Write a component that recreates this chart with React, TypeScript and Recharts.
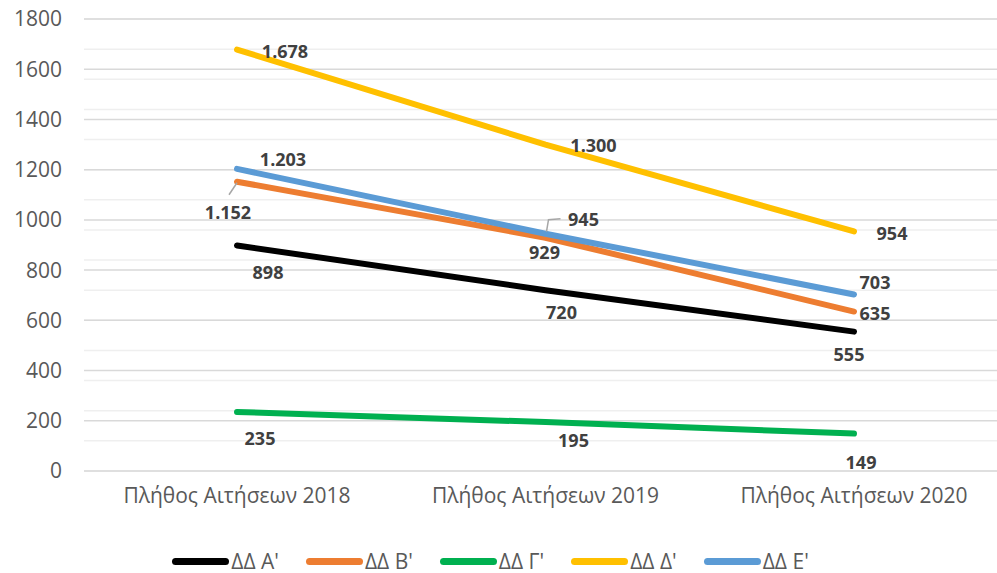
import React from "react";
import {
  LineChart,
  Line,
  XAxis,
  YAxis,
  CartesianGrid,
  Legend,
  LabelList,
} from "recharts";

const categories = [
  "Πλήθος Αιτήσεων 2018",
  "Πλήθος Αιτήσεων 2019",
  "Πλήθος Αιτήσεων 2020",
];
const ddA = [898, 720, 555];
const ddB = [1152, 929, 635];
const ddG = [235, 195, 149];
const ddD = [1678, 1300, 954];
const ddE = [1203, 945, 703];
const yTicks = [0, 200, 400, 600, 800, 1000, 1200, 1400, 1600, 1800];

const data = categories.map((name, i) => ({
  name,
  a: ddA[i],
  b: ddB[i],
  g: ddG[i],
  d: ddD[i],
  e: ddE[i],
}));

const minorLines: number[] = [];
for (let v = 0; v <= 1800; v += 40) minorLines.push(v);

// label offsets from the point (label centre)
const labelPos: Record<string, number[][]> = {
  a: [[31, 27], [16, 22], [-5, 23]],
  b: [[-9, 31], [-1, 15], [21, 2]],
  g: [[23, 27], [28, 19], [7, 29]],
  d: [[48, 2], [48, 1], [38, 2]],
  e: [[46, -9], [38, -14], [21, -12]],
};

const fmt = (v: number) =>
  v >= 1000 ? Math.floor(v / 1000) + "." + String(v % 1000).padStart(3, "0") : String(v);

const makeLabel = (key: string) => (props: any) => {
  const { x, y, value, index } = props;
  const [dx, dy] = labelPos[key][index];
  const lx = x + dx;
  const ly = y + dy;
  let leader = null;
  if (key === "b" && index === 0) {
    leader = <polyline points={`${x},${y + 1} ${x - 8},${y + 13}`} stroke="#A6A6A6" strokeWidth={1.5} fill="none" />;
  }
  if (key === "e" && index === 1) {
    leader = <polyline points={`${x + 1},${y - 2} ${x + 3},${y - 14} ${x + 15},${y - 15}`} stroke="#A6A6A6" strokeWidth={1.5} fill="none" />;
  }
  return (
    <g>
      {leader}
      <text x={lx} y={ly} dy="0.35em" textAnchor="middle" fill="#404040" fontSize={18} fontWeight="bold" fontFamily="Open Sans">
        {fmt(value)}
      </text>
    </g>
  );
};

const series = [
  { key: "a", name: "ΔΔ Α'", color: "#000000" },
  { key: "b", name: "ΔΔ Β'", color: "#ED7D31" },
  { key: "g", name: "ΔΔ Γ'", color: "#00B050" },
  { key: "d", name: "ΔΔ Δ'", color: "#FFC000" },
  { key: "e", name: "ΔΔ Ε'", color: "#5B9BD5" },
];

const renderLegend = () => (
  <div style={{ height: 42, display: "flex", justifyContent: "center", alignItems: "flex-end", fontFamily: "Open Sans", fontSize: 21, color: "#595959", paddingRight: 26 }}>
    {series.map((s, i) => (
      <div key={s.key} style={{ display: "flex", alignItems: "center", marginLeft: i === 0 ? 0 : 27 }}>
        <div style={{ width: 57, height: 7, borderRadius: 4, background: s.color, marginRight: 2 }} />
        <span style={{ lineHeight: "24px" }}>{s.name}</span>
      </div>
    ))}
  </div>
);

export default function App() {
  return (
    <div style={{ position: "absolute", top: 0, left: 0, background: "#fff" }}>
      <LineChart width={997} height={573} data={data} margin={{ top: 19, right: -10, bottom: 0, left: 0 }}>
        <CartesianGrid vertical={false} horizontalValues={minorLines} stroke="#EFEFEF" strokeWidth={1.5} />
        <CartesianGrid vertical={false} horizontalValues={yTicks} stroke="#D9D9D9" strokeWidth={1.5} />
        <XAxis
          dataKey="name"
          axisLine={false}
          tickLine={false}
          tickSize={0}
          tickMargin={17}
          height={60}
          padding={{ left: 153, right: 153 }}
          tick={{ fill: "#595959", fontSize: 21, fontFamily: "Open Sans" }}
        />
        <YAxis
          domain={[0, 1800]}
          ticks={yTicks}
          axisLine={false}
          tickLine={false}
          tickSize={0}
          tickMargin={22}
          width={84}
          tick={{ fill: "#595959", fontSize: 21, fontFamily: "Open Sans" }}
        />
        <Legend verticalAlign="bottom" content={renderLegend} />
        {series.map((s) => (
          <Line
            key={s.key}
            dataKey={s.key}
            name={s.name}
            stroke={s.color}
            strokeWidth={6}
            strokeLinecap="round"
            dot={false}
            isAnimationActive={false}
          >
            <LabelList dataKey={s.key} content={makeLabel(s.key)} />
          </Line>
        ))}
      </LineChart>
    </div>
  );
}
